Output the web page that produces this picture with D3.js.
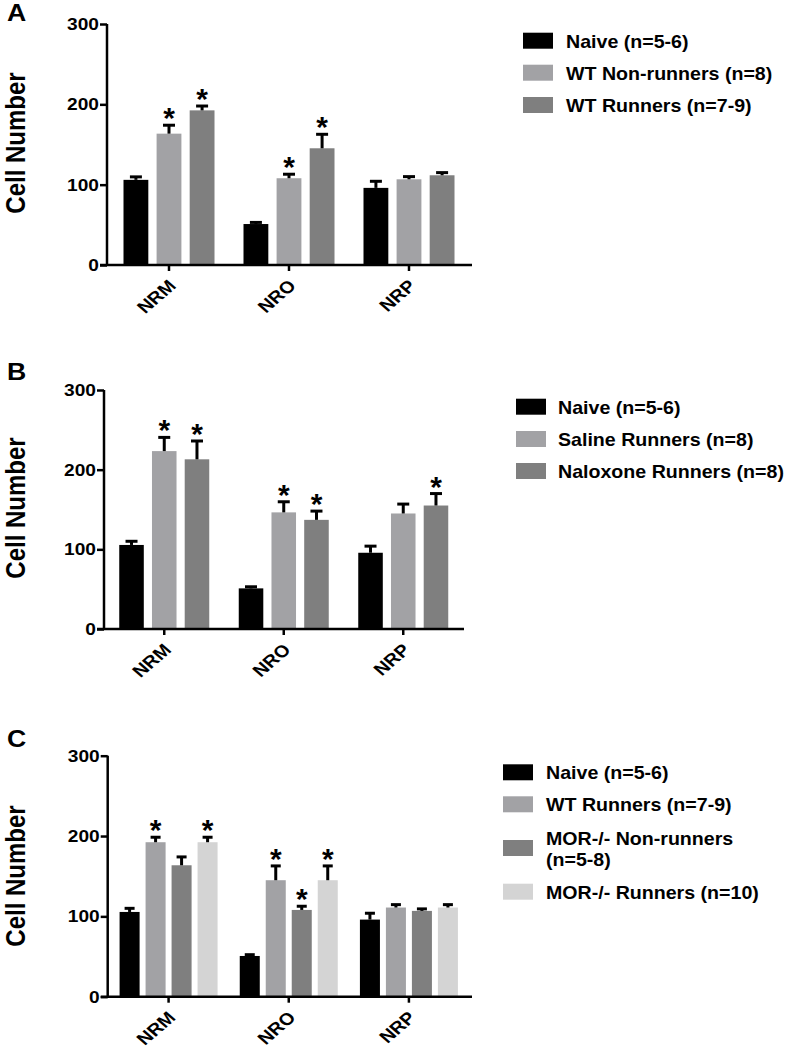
<!DOCTYPE html>
<html><head><meta charset="utf-8">
<script src="https://cdn.jsdelivr.net/npm/d3@7/dist/d3.min.js"></script>
<style>
body{margin:0;background:#fff;}
svg{display:block;font-family:"Liberation Sans",Arial,Helvetica,sans-serif;font-weight:bold;}
</style></head>
<body>
<svg id="c" width="786" height="1050"></svg>
<script>
// ---- data ----
const categories = ["NRM", "NRO", "NRP"];
const yTicks = [0, 100, 200, 300];
const yTitle = "Cell Number";

const seriesA = ["Naive (n=5-6)", "WT Non-runners (n=8)", "WT Runners (n=7-9)"];
const meansA = [[106, 51, 96], [163.5, 108, 106.7], [192.5, 145.3, 111.7]];
const semA   = [[3.7, 2, 8.2], [10.5, 5, 3.3], [5.4, 17.4, 3.3]];
const starsA = [[0, 0, 0], [1, 1, 0], [1, 1, 0]];
const colorsA = ["#000000", "#a2a2a5", "#7f7f7f"];

const seriesB = ["Naive (n=5-6)", "Saline Runners (n=8)", "Naloxone Runners (n=8)"];
const meansB = [[105.5, 51, 95.7], [223.3, 146.4, 145], [213, 137, 155]];
const semB   = [[4.6, 2, 8.3], [17.2, 13.3, 11.8], [23, 11, 15]];
const starsB = [[0, 0, 0], [1, 1, 0], [1, 1, 1]];
const colorsB = ["#000000", "#a2a2a5", "#7f7f7f"];

const seriesC = ["Naive (n=5-6)", "WT Runners (n=7-9)", ["MOR-/- Non-runners", "(n=5-8)"], "MOR-/- Runners (n=10)"];
const meansC = [[105.5, 50.7, 96], [192.3, 145, 111], [163.6, 108, 106.8], [192.3, 145, 111]];
const semC   = [[4.5, 1.6, 7.9], [6.2, 17.8, 3.6], [10.4, 4.6, 2.5], [6.2, 17.8, 3.6]];
const starsC = [[0, 0, 0], [1, 1, 0], [0, 1, 0], [1, 1, 0]];
const colorsC = ["#000000", "#a2a2a5", "#7f7f7f", "#d4d4d4"];

// ---- layout ----
const SX = 1.16;   // horizontal stretch of axis lettering seen in the reference
const SXL = 1.06;  // legend lettering stretch
const svg = d3.select("#c");

function label(g, x, y, str, size, anchor, rot, sx) {
  return g.append("text")
    .attr("transform", `translate(${x},${y}) scale(${sx || SX},1)` + (rot ? ` rotate(${rot})` : ""))
    .attr("text-anchor", anchor || "start").attr("font-size", size).text(str);
}

const panels = [
  {letter: "A", letterY: 21, series: seriesA, means: meansA, sem: semA, stars: starsA, colors: colorsA,
   axisX: 107, xRange: [109, 469], axisEnd: 472, yRange: [265, 24], innerW: 91, innerPad: 0.25, cap: 12,
   titleY: 143, legX: 523, legText: 566, legRows: [40.7, 72.7, 105]},
  {letter: "B", letterY: 380, series: seriesB, means: meansB, sem: semB, stars: starsB, colors: colorsB,
   axisX: 104, xRange: [104.5, 463], axisEnd: 464, yRange: [629, 390], innerW: 90, innerPad: 0.25, cap: 12,
   titleY: 508, legX: 516, legText: 558, legRows: [406.7, 439, 471]},
  {letter: "C", letterY: 747, series: seriesC, means: meansC, sem: semC, stars: starsC, colors: colorsC,
   axisX: 107.7, xRange: [108.5, 469], axisEnd: 472, yRange: [996.7, 755.7], innerW: 98, innerPad: 0.23, cap: 10,
   titleY: 876, legX: 503, legText: 546, legRows: [772.3, 804.3, 848, 891.7]}
];

panels.forEach(p => {
  const g = svg.append("g");
  const x = d3.scaleBand().domain(categories).range(p.xRange).padding(0);
  const xi = d3.scaleBand().domain(d3.range(p.series.length)).range([-p.innerW / 2, p.innerW / 2]).paddingInner(p.innerPad);
  const y = d3.scaleLinear().domain([0, 300]).range(p.yRange);

  // panel letter
  label(g, 7, p.letterY, p.letter, 23);

  // y title
  label(g, 25, p.titleY, yTitle, 24, "middle", -90);

  // bars
  p.series.forEach((s, si) => {
    categories.forEach((c, ci) => {
      const cx = x(c) + x.bandwidth() / 2;
      const bx = cx + xi(si);
      const bw = xi.bandwidth();
      const m = p.means[si][ci];
      const e = p.sem[si][ci];
      g.append("rect").attr("x", bx).attr("y", y(m)).attr("width", bw)
        .attr("height", y(0) - y(m)).attr("fill", p.colors[si]);
      const mx = bx + bw / 2;
      g.append("line").attr("x1", mx).attr("x2", mx).attr("y1", y(m)).attr("y2", y(m + e))
        .attr("stroke", "#000").attr("stroke-width", 3);
      g.append("line").attr("x1", mx - p.cap / 2).attr("x2", mx + p.cap / 2)
        .attr("y1", y(m + e)).attr("y2", y(m + e))
        .attr("stroke", "#000").attr("stroke-width", 3);
      if (p.stars[si][ci]) {
        g.append("text").attr("x", mx).attr("y", y(m + e) + 3)
          .attr("text-anchor", "middle").attr("font-size", 30).text("*");
      }
    });
  });

  // y axis
  const yAxis = d3.axisLeft(y).tickValues(yTicks).tickSize(7).tickFormat("");
  const ya = g.append("g").attr("transform", `translate(${p.axisX},0)`).call(yAxis);
  ya.select(".domain").attr("stroke", "#000").attr("stroke-width", 2.5).attr("d", `M0,${y(300)}V${y(0)}`);
  ya.selectAll(".tick line").attr("stroke", "#000").attr("stroke-width", 2.5);
  yTicks.forEach(t => {
    label(g, p.axisX - 8, y(t) + 6, d3.format("d")(t), 16.5, "end");
  });

  // x axis
  const xAxis = d3.axisBottom(x).tickSize(6).tickFormat("");
  const xa = g.append("g").attr("transform", `translate(0,${y(0)})`).call(xAxis);
  xa.select(".domain").attr("stroke", "#000").attr("stroke-width", 2.5)
    .attr("d", `M${p.axisX - 7},0H${p.axisEnd}`);
  xa.selectAll(".tick line").attr("stroke", "#000").attr("stroke-width", 2.5);
  categories.forEach(c => {
    const cx = x(c) + x.bandwidth() / 2;
    label(g, cx + 8, y(0) + 22, c, 17, "end", -45);
  });

  // legend
  p.series.forEach((s, si) => {
    const cy = p.legRows[si];
    g.append("rect").attr("x", p.legX).attr("y", cy - 8).attr("width", 30).attr("height", 16)
      .attr("fill", p.colors[si]);
    const lines = Array.isArray(s) ? s : [s];
    lines.forEach((ln, li) => {
      const off = (li - (lines.length - 1) / 2) * 21;
      label(g, p.legText, cy + off + 7, ln, 18.5, "start", 0, SXL);
    });
  });
});
</script>
</body></html>
